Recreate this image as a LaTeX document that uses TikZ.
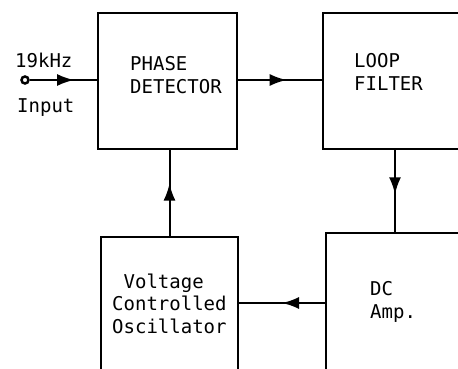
\documentclass[tikz,border=0pt]{standalone}
\usepackage{fontspec}
\setmonofont{DejaVu Sans Mono}
\usetikzlibrary{arrows.meta,decorations.markings}
\begin{document}
\begin{tikzpicture}[
    x=1pt, y=-1pt,
    box/.style={draw, rectangle, line width=2.2pt, inner sep=0pt},
    txt/.style={font=\ttfamily\fontsize{19}{22.5}\selectfont, align=left, inner sep=0pt, anchor=base west},
    wire/.style={line width=2pt},
    midarrow/.style={postaction={decorate}, decoration={markings,
        mark=at position #1 with {\arrow{Latex[length=17pt,width=12pt]}}}}]
    \clip (0,0) rectangle (458,369);
    % blocks
    \node[box, minimum width=139pt, minimum height=136pt] (pd)  at (167.5, 81) {};
    \node[box, minimum width=144pt, minimum height=136pt] (lf)  at (395, 81)   {};
    \node[box, minimum width=137pt, minimum height=136pt] (vco) at (169.5, 305) {};
    \node[box, minimum width=140pt, minimum height=140pt] (dc)  at (396, 303)  {};
    % labels (anchored at the baseline of the last line)
    \node[txt] (pdtext)  at (130, 93)  {PHASE\\DETECTOR};
    \node[txt] (lftext)  at (354, 90)  {LOOP\\FILTER};
    \node[txt] (vcotext) at (112, 333) {\ Voltage\\Controlled\\Oscillator};
    \node[txt] (dctext)  at (370, 318) {DC\\Amp.};
    \node[txt] (freq)    at (15, 68)   {19kHz};
    \node[txt] (inlabel) at (17, 113)  {Input};
    % input terminal
    \node[circle, draw, line width=2.5pt, fill=white, inner sep=0pt, minimum size=7pt] (in) at (25, 80) {};
    % connections
    \draw[wire, midarrow=0.66] (in) -- (in -| pd.west);
    \draw[wire, midarrow=0.58] (pd.east |- in) -- (lf.west |- in);
    \draw[wire, midarrow=0.54] (lf.south) -- (lf.south |- dc.north);
    \draw[wire, midarrow=0.50] (dc.west) -- (dc.west -| vco.east);
    \draw[wire, midarrow=0.61] (vco.north) -- (vco.north |- pd.south);
\end{tikzpicture}
\end{document}
